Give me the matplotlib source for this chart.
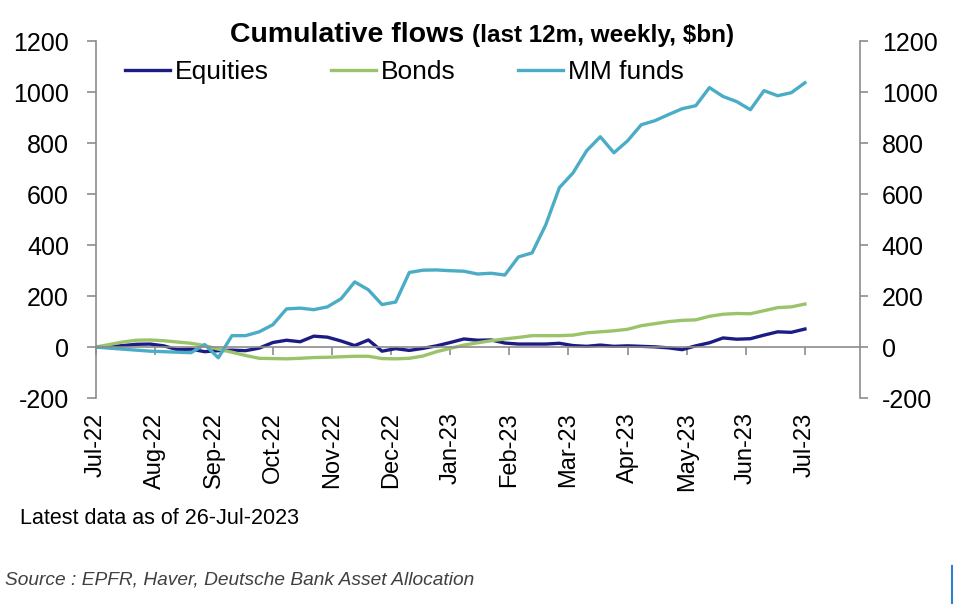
import matplotlib.pyplot as plt
from matplotlib.lines import Line2D
import numpy as np

# dados semanais, 27-Jul-2022 ate 26-Jul-2023 ($bn)
semanas = np.arange(53)

meses = ["Jul-22", "Aug-22", "Sep-22", "Oct-22", "Nov-22", "Dec-22", "Jan-23",
         "Feb-23", "Mar-23", "Apr-23", "May-23", "Jun-23", "Jul-23"]

equities = [0, 2, 6, 11, 12, 5, -10, -8, -18, -14,
            -12, -14, -4, 18, 27, 21, 43, 39, 24, 6,
            28, -16, -6, -13, -5, 5, 18, 32, 27, 28,
            16, 12, 12, 12, 15, 6, 3, 8, 3, 5,
            3, 1, -3, -10, 5, 17, 36, 31, 33, 47,
            60, 58, 71]

bonds = [0, 10, 20, 27, 28, 25, 20, 15, 6, -8,
         -20, -33, -44, -45, -46, -44, -41, -40, -38, -36,
         -36, -45, -46, -44, -35, -18, -5, 8, 17, 25,
         32, 38, 45, 45, 45, 47, 56, 60, 64, 70,
         84, 92, 100, 105, 107, 121, 129, 132, 131, 143,
         155, 158, 169]

mm_funds = [0, -4, -8, -12, -16, -18, -20, -22, 10, -42,
            45, 45, 60, 88, 150, 153, 147, 158, 190, 256,
            225, 167, 177, 293, 302, 303, 300, 298, 287, 290,
            283, 354, 370, 480, 626, 684, 771, 826, 763, 810,
            873, 889, 913, 936, 948, 1019, 984, 964, 932, 1007,
            987, 999, 1038]

plt.rcParams['font.family'] = ['Liberation Sans', 'DejaVu Sans']
plt.rcParams['axes.unicode_minus'] = False

cinza = "#8c8c8c"

fig = plt.figure(figsize=(9.58, 6.04), dpi=100)
ax = fig.add_axes([0.0997, 0.341, 0.7975, 0.5903])

ax.plot(semanas, equities, color="#1c1c84", lw=2.4, label="Equities")
ax.plot(semanas, bonds, color="#9bc46a", lw=2.4, label="Bonds")
ax.plot(semanas, mm_funds, color="#4bacc6", lw=2.4, label="MM funds")

ax.set_xlim(0, 56)
ax.set_ylim(-200, 1200)
ax.set_yticks(range(-200, 1201, 200))

# eixo x na linha do zero
ax.spines['bottom'].set_position(('data', 0))
ax.spines['top'].set_visible(False)
ax.spines['right'].set_visible(False)
for s in ['left', 'bottom']:
    ax.spines[s].set_color(cinza)
    ax.spines[s].set_linewidth(1.2)

ax.set_xticks(np.linspace(0, 52, 13))
ax.set_xticklabels(meses, rotation=90, fontsize=17)
ax.tick_params(axis='x', direction='out', length=6, width=1.2, color=cinza, pad=41)
ax.tick_params(axis='y', direction='out', length=6.5, width=1.2, color=cinza, pad=12.5, labelsize=18)

# eixo da direita
ax2 = ax.twinx()
ax2.set_ylim(-200, 1200)
ax2.set_yticks(range(-200, 1201, 200))
for s in ['left', 'top', 'bottom']:
    ax2.spines[s].set_visible(False)
ax2.spines['right'].set_color(cinza)
ax2.spines['right'].set_linewidth(1.2)
ax2.tick_params(axis='y', direction='out', length=6, width=1.2, color=cinza, pad=10, labelsize=18)

# legenda
ax.legend(loc='center left', bbox_to_anchor=(125 / 958, 1 - 72 / 604),
          bbox_transform=fig.transFigure, ncol=3, frameon=False, fontsize=19,
          handlelength=1.7, handletextpad=0.2, columnspacing=2.35,
          borderpad=0, borderaxespad=0)

# titulo
fig.text(230 / 958, 1 - 42 / 604, "Cumulative flows", fontsize=20.5,
         fontweight='bold', va='baseline', ha='left')
fig.text(472 / 958, 1 - 42 / 604, "(last 12m, weekly, $bn)", fontsize=17.5,
         fontweight='bold', va='baseline', ha='left')

fig.text(20 / 958, 1 - 519 / 604, "Latest data as of 26-Jul-2023",
         fontsize=15.5, va='center', ha='left')
fig.text(5 / 958, 1 - 580 / 604, "Source : EPFR, Haver, Deutsche Bank Asset Allocation",
         fontsize=13.8, style='italic', color="#404040", va='center', ha='left')

fig.add_artist(Line2D([952 / 958, 952 / 958], [1 - 566 / 604, 1 - 603 / 604],
                      transform=fig.transFigure, color="#2f7fd0", lw=1.5))

fig.savefig("out.png", dpi=100)
